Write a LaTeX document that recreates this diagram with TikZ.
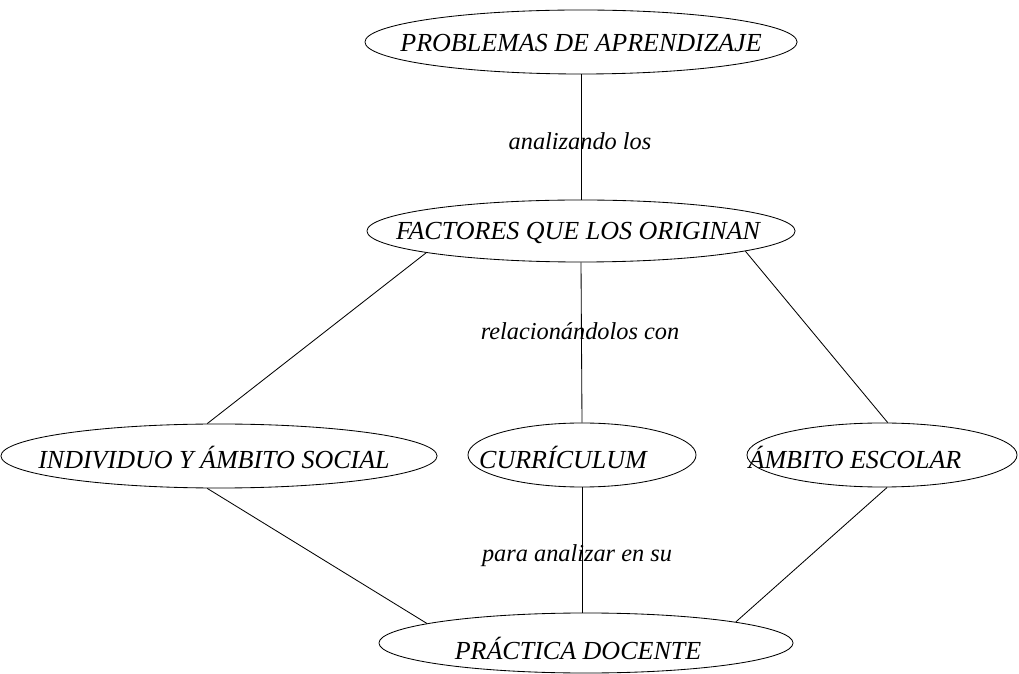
\documentclass[tikz,border=0pt]{standalone}
\usepackage{fontspec}
\setmainfont{Liberation Serif}
\usetikzlibrary{shapes.geometric}
\tikzset{
  oval/.style={ellipse, draw, line width=0.6pt, inner sep=0pt},
  txt/.style={font=\fontsize{18.5}{22}\selectfont\itshape, inner sep=0pt},
  lbl/.style={font=\fontsize{17.3}{21}\selectfont\itshape, inner sep=0pt},
  conn/.style={line width=0.6pt}
}
\begin{document}
\begin{tikzpicture}[x=0.025cm,y=-0.025cm]
\useasboundingbox (0,0) rectangle (1019,674);
\node[oval, minimum width=10.8cm, minimum height=1.6cm,
  label={[txt,yshift=-0.025cm]center:PROBLEMAS DE APRENDIZAJE}] (P) at (581,42) {};
\node[oval, minimum width=10.7cm, minimum height=1.55cm,
  label={[txt,xshift=-0.075cm,yshift=-0.05cm]center:FACTORES QUE LOS ORIGINAN}] (F) at (581,231) {};
\node[oval, minimum width=10.9cm, minimum height=1.6cm,
  label={[txt,xshift=-0.125cm,yshift=-0.05cm]center:INDIVIDUO Y ÁMBITO SOCIAL}] (I) at (219,456) {};
\node[oval, minimum width=5.7cm, minimum height=1.6cm,
  label={[txt,xshift=-0.475cm,yshift=-0.05cm]center:CURRÍCULUM}] (C) at (582,455) {};
\node[oval, minimum width=6.75cm, minimum height=1.6cm,
  label={[txt,xshift=-0.675cm,yshift=-0.05cm]center:ÁMBITO ESCOLAR}] (E) at (882,455) {};
\node[oval, minimum width=10.35cm, minimum height=1.5cm,
  label={[txt,xshift=-0.2cm,yshift=-0.125cm]center:PRÁCTICA DOCENTE}] (D) at (586,643) {};

\node[lbl] (l1) at (580,141) {analizando los};
\node[lbl] (l2) at (580,331) {relacionándolos con};
\node[lbl] (l3) at (577,556) {para analizar en su};

\draw[conn] (P.south) -- (F.north);
\draw[conn] (F.188) -- (I.110);
\draw[conn] (F.south) -- (C.north);
\draw[conn] (F.-7) -- (E.80);
\draw[conn] (I.-110) -- (D.173);
\draw[conn] (C.south) -- (C.south |- D.north);
\draw[conn] (E.-81) -- (D.8);
\end{tikzpicture}
\end{document}
